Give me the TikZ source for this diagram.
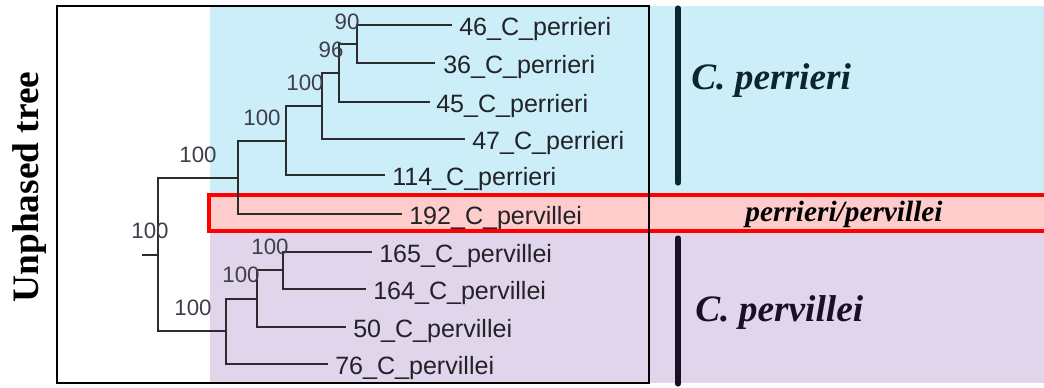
\documentclass[tikz,border=0pt]{standalone}
\usepackage{fontspec}
\setmainfont{Liberation Serif}
\newfontfamily\arialf{Liberation Sans}
\definecolor{bluebg}{HTML}{CCEEF9}
\definecolor{purplebg}{HTML}{E1D5EB}
\definecolor{pinkbg}{HTML}{FFCCCC}
\definecolor{bandred}{HTML}{FF0000}
\definecolor{treecol}{HTML}{2B2B30}
\definecolor{bootcol}{HTML}{3E3E4C}
\definecolor{leafcol}{HTML}{222228}
\definecolor{perrcol}{HTML}{0C2630}
\definecolor{pervcol}{HTML}{1A1026}
\begin{document}
\begin{tikzpicture}[x=0.75pt,y=-0.75pt,
  edge/.style={draw=treecol, line width=0.9pt},
  boot/.style={inner sep=0pt, text=bootcol, font=\arialf\fontsize{16.7pt}{18pt}\selectfont},
  leaf/.style={inner sep=0pt, anchor=base west, text=leafcol, font=\arialf\fontsize{18.8pt}{20pt}\selectfont},
  species/.style={inner sep=0pt, anchor=base west, font=\bfseries\itshape\fontsize{28pt}{30pt}\selectfont},
  bar/.style={line width=3.8pt, line cap=round},
  frame/.style={draw=black, line width=1.1pt}]
\useasboundingbox (0,0) rectangle (1044,387);
% backgrounds
\fill[bluebg] (210,6) rectangle (1044,195);
\fill[purplebg] (210,231) rectangle (1044,383);
\draw[fill=pinkbg, draw=bandred, line width=2.3pt] (209,195) rectangle (1060,231);
\draw[frame] (57,6) rectangle (649,383);
% vertical bars
\coordinate (pa) at (678,8);
\coordinate (pb) at (678,183);
\coordinate (va) at (678,238);
\coordinate (vb) at (678,384);
\draw[bar, perrcol] (pa) -- (pb);
\draw[bar, pervcol] (va) -- (vb);
% tree internal nodes
\coordinate (rs) at (142,255);
\coordinate (root) at (158,255);
\coordinate (n1) at (238,178);
\coordinate (n2) at (286,141);
\coordinate (n3) at (322,106);
\coordinate (n4) at (339,73);
\coordinate (n5) at (357,44);
\coordinate (m1) at (226,331);
\coordinate (m2) at (257,299);
\coordinate (m3) at (283,270);
% leaf ends
\coordinate (e46) at (452,25);
\coordinate (e36) at (435,63);
\coordinate (e45) at (430,102);
\coordinate (e47) at (465,139);
\coordinate (e114) at (385,175);
\coordinate (e192) at (402,214);
\coordinate (e165) at (372,252);
\coordinate (e164) at (366,289);
\coordinate (e50) at (346,327);
\coordinate (e76) at (328,364);
% edges
\draw[edge] (rs) -- (root);
\draw[edge] (root) |- (n1);
\draw[edge] (root) |- (m1);
\draw[edge] (n1) |- (n2);
\draw[edge] (n1) |- (e192);
\draw[edge] (n2) |- (n3);
\draw[edge] (n2) |- (e114);
\draw[edge] (n3) |- (n4);
\draw[edge] (n3) |- (e47);
\draw[edge] (n4) |- (n5);
\draw[edge] (n4) |- (e45);
\draw[edge] (n5) |- (e46);
\draw[edge] (n5) |- (e36);
\draw[edge] (m1) |- (m2);
\draw[edge] (m1) |- (e76);
\draw[edge] (m2) |- (m3);
\draw[edge] (m2) |- (e50);
\draw[edge] (m3) |- (e165);
\draw[edge] (m3) |- (e164);
% leaf labels
\node[leaf] (t46) at (459,35) {46\_C\_perrieri};
\node[leaf] (t36) at (443,73) {36\_C\_perrieri};
\node[leaf] (t45) at (436,112) {45\_C\_perrieri};
\node[leaf] (t47) at (472,149) {47\_C\_perrieri};
\node[leaf] (t114) at (392,185) {114\_C\_perrieri};
\node[leaf] (t192) at (409,224) {192\_C\_pervillei};
\node[leaf] (t165) at (379,262) {165\_C\_pervillei};
\node[leaf] (t164) at (373,299) {164\_C\_pervillei};
\node[leaf] (t50) at (353,337) {50\_C\_pervillei};
\node[leaf] (t76) at (335,374) {76\_C\_pervillei};
% bootstrap labels
\node[boot] (b90) at (347,22) {90};
\node[boot] (b96) at (331,50) {96};
\node[boot] (b3) at (305,83) {100};
\node[boot] (b2) at (262,118) {100};
\node[boot] (b1) at (198,155) {100};
\node[boot] (br) at (150,231) {100};
\node[boot] (bm3) at (270,247) {100};
\node[boot] (bm2) at (241,275) {100};
\node[boot] (bm1) at (193,308) {100};
% group labels
\node[species, text=perrcol] (sp1) at (691,89) {C. perrieri};
\node[species, text=pervcol] (sp2) at (695,321) {C. pervillei};
\node[inner sep=0pt, anchor=base, font=\bfseries\itshape\fontsize{22pt}{24pt}\selectfont] (sp3) at (844,221) {perrieri/pervillei};
\node[inner sep=0pt, rotate=90, font=\bfseries\fontsize{28pt}{30pt}\selectfont] (ut) at (30,187) {Unphased tree};
\end{tikzpicture}
\end{document}
